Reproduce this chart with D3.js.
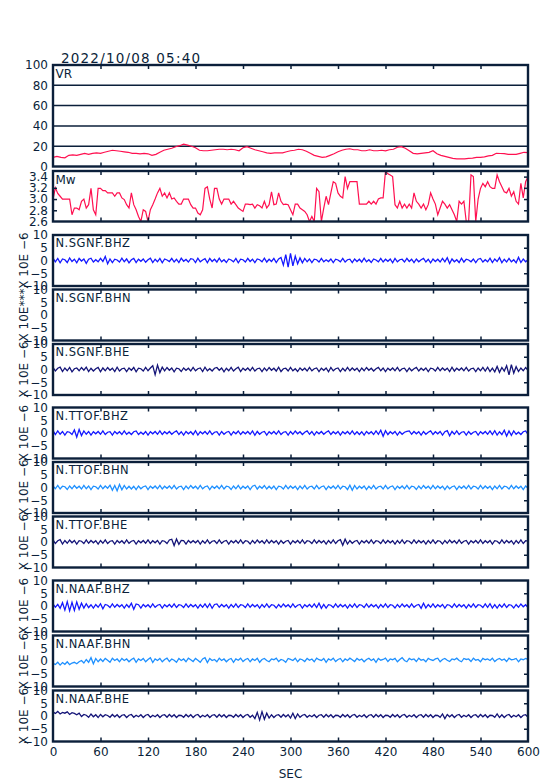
<!DOCTYPE html>
<html>
<head>
<meta charset="utf-8">
<script src="https://cdn.jsdelivr.net/npm/d3@7"></script>
<style>
body { margin: 0; background: #fff; }
text { font-family: "DejaVu Sans", sans-serif; fill: #0b1f3a; }
</style>
</head>
<body>
<div id="chart"></div>
<script>
// ---- data ----
var title = "2022/10/08 05:40";
var secTicks = [0, 60, 120, 180, 240, 300, 360, 420, 480, 540, 600];
var vrTicks = [0, 20, 40, 60, 80, 100];
var vrGrid = [20, 40, 60, 80];
var mwTicks = [2.6, 2.8, 3.0, 3.2, 3.4];
var waveTicks = [-10, -5, 0, 5, 10];

// VR every 5 s
var vrValues = [9, 10, 9, 8.5, 11, 11.5, 11, 12, 13, 12, 13, 13.5, 13, 14, 15, 16, 15.5, 15, 14.5, 14,
  13, 13, 12.5, 13, 12.5, 11, 12, 14, 16, 17, 18, 19.5, 20.5, 22, 21, 20, 18.5, 16, 15.5, 15.5,
  16, 16.5, 17, 17, 16.5, 17, 16.5, 15.5, 18.5, 19.5, 18, 16.5, 15.5, 14.5, 13.5, 13, 13.5, 13.5, 13.5, 14.5,
  15.5, 16, 17, 16.5, 15, 13, 11, 10, 9, 9.5, 11, 12.5, 14.5, 16, 17, 17.5, 16.5, 16.5, 15.5, 15.5,
  16.5, 15.5, 15.5, 16, 15.5, 16.5, 17, 19, 19.5, 18, 15.5, 13, 12.5, 13, 13.5, 14, 15.5, 12.5, 11, 10,
  9, 8, 7.6, 7.6, 7.6, 8, 8.2, 8.9, 9, 9.5, 10.5, 11, 13, 12.8, 12.6, 12, 12, 12, 13, 14, 13.6];

// Mw every 3 s
var mwValues = [3.0, 3.2, 3.1, 3.05, 3.0, 3.0, 3.0, 3.0, 2.72, 2.84, 2.84, 2.81, 2.96, 3.0, 2.84, 2.9, 3.19, 2.81, 2.72, 3.19,
  3.19, 3.15, 3.15, 3.11, 3.11, 3.11, 3.05, 3.11, 3.11, 3.02, 2.99, 2.9, 2.84, 3.11, 2.9, 2.81, 2.69, 2.6, 2.81, 2.78,
  2.6, 2.81, 2.9, 3.0, 3.11, 3.19, 3.05, 3.11, 3.02, 3.11, 3.0, 3.02, 2.96, 2.91, 2.91, 3.0, 3.0, 3.0, 2.9, 2.84,
  2.84, 2.75, 2.72, 2.81, 3.19, 3.22, 3.0, 2.84, 3.19, 3.19, 3.0, 2.91, 3.0, 3.0, 3.0, 2.91, 2.96, 2.9, 2.84, 2.81,
  2.78, 2.91, 2.91, 2.9, 2.91, 2.84, 2.9, 2.88, 2.84, 2.96, 2.84, 2.9, 3.13, 2.9, 2.91, 3.11, 2.96, 2.9, 2.91, 2.9,
  2.81, 2.72, 2.91, 2.91, 2.84, 2.81, 2.78, 2.72, 2.6, 2.69, 2.6, 3.19, 3.13, 2.6, 2.84, 3.05, 2.9, 3.11, 3.31, 3.28,
  3.11, 3.05, 3.02, 3.4, 3.19, 3.31, 3.31, 3.31, 3.31, 2.91, 2.91, 2.91, 2.91, 2.96, 2.91, 2.96, 2.91, 3.0, 3.02, 3.02,
  3.5, 3.45, 3.43, 3.4, 2.9, 2.84, 2.96, 2.84, 2.91, 2.84, 2.91, 2.84, 3.11, 2.96, 2.91, 2.84, 2.91, 2.81, 2.9, 3.11,
  3.0, 2.91, 2.72, 2.84, 2.96, 2.91, 2.84, 2.9, 2.81, 2.72, 2.6, 2.96, 2.91, 2.96, 2.6, 2.6, 3.43, 3.4, 2.6, 3.0,
  3.19, 3.28, 3.22, 3.31, 3.22, 3.19, 3.19, 3.43, 3.31, 3.22, 3.13, 3.11, 3.19, 3.05, 3.13, 2.96, 2.91, 3.28, 3.02, 3.31,
  3.4];

// waveforms (X 10E -6), every 3 s
var sgnfBHZ = [.9,-.5,.8,-.9,.6,.3,-.8,1.0,-.4,.5, -.9,.8,-.2,.6,-1.1,.5,.9,-.6,.3,-.5,
  .8,-.4,1.6,-1.3,.6,-.8,.5,.2,-.6,.9, -.5,.6,-.9,.3,.8,-.8,.5,-.3,.6,-.7,
  .3,.9,-.8,.5,-.5,.8,-.9,.6,.2,-.4, .8,-.6,.5,-.8,.9,-.3,.4,-.6,.7,.5,
  -.8,.9,-.5,.2,.7,-.9,.8,-.4,.5,-.6, .9,-.5,.3,-.8,.6,.2,-.5,.8,-.9,.5,
  .3,-.6,.8,-.4,.5,-.8,.6,.3,-.5,.9, -.6,.5,-.4,.8,-.8,.6,1.2,-1.8,2.3,-2.6,
  2.8,-2.1,1.7,-1.3,1.0,-.9,.8,-.5,.6,-.8, .5,.3,-.6,.8,-.5,.3,-.4,.6,-.8,.5,
  .2,-.5,.8,-.6,.3,.5,-.8,.6,-.4,.5, -.6,.9,-.5,.3,-.8,.6,.2,-.5,.8,-.6,
  .5,-.3,.6,-.9,.8,-.5,.3,.5,-.6,.8, -.4,.5,-.8,.6,-.5,.3,.8,-.6,.5,-.9,
  .6,-.4,.5,-.6,.8,-.5,1.1,-1.2,.6,-.5, .3,-.8,.9,-.6,.5,.2,-.5,.6,-.8,.5,
  .8,-.6,.3,-.5,.9,-.8,.6,-.4,1.1,-.9, .5,-.6,.8,-.5,.3,-.9,1.2,-.8,.6,-.5, .3];
var sgnfBHN = [];
var sgnfBHE = [.8,-.6,.5,.9,-.8,.6,-.5,.8,-.9,.3, .6,-.5,.8,-.3,.9,-.8,.5,-.6,.3,.8,
  -.9,.6,-.5,.8,-.3,.5,-.8,.9,-.6,.3, .5,-.8,.6,-.3,.8,-.9,.5,.3,-.6,.8,
  -.5,.6,1.5,-2.0,1.7,-1.2,.9,-.5,.8,-.3, .6,-.9,.5,.3,-.8,.6,-.3,.5,-.6,.8,
  -.5,.3,.6,-.8,.9,-.5,.3,-.6,.5,.8, -.3,.6,-.9,.5,-.5,.8,-.6,.3,.9,-.8,
  .5,-.3,.6,-.5,.8,-.6,.3,.5,-.8,.6, -.5,.8,-.3,.5,-.6,.9,-.8,.3,.5,-.6,
  .8,-.5,.3,-.8,.6,-.3,.5,-.6,.8,-.5, .3,.6,-.8,.5,-.3,.6,-.9,.8,-.5,.3,
  .6,-.8,.5,-.6,.8,-.5,.6,-.3,.5,-.8, .6,-.5,.8,-.3,.5,-.6,.3,.8,-.5,.6,
  -.8,.5,-.3,.6,-.5,.8,-.6,.3,.5,-.8, .6,-.5,.3,.8,-.6,.5,-.3,.6,-.8,.5,
  .3,-.6,.8,-.5,.6,-.3,.5,-.8,.9,-.6, .5,-.3,.6,-.5,.8,-.6,.3,.5,-.8,.6,
  -.5,.8,-.6,.9,-.8,.5,-.9,1.2,-1.1,.8, -.6,1.5,-2.1,1.9,-1.4,1.1,-.8,.6,-.5,.8, -.3];
var ttofBHZ = [.9,-.6,.8,-.5,.6,-.8,.5,.3,-.6,1.2, -1.6,1.4,-1.0,.8,-.5,.6,-.8,.5,-.3,.6,
  -.5,.8,-.6,.3,.5,-.8,.6,-.3,.5,-.6, .8,-.5,.3,-.6,.5,.8,-.6,.3,-.5,.6,
  -.8,.5,-.3,.6,-.5,.8,-.6,.5,-.3,.6, -.5,.3,.8,-.6,.5,-.8,.6,-.3,.5,-.6,
  .9,-.8,.5,-.3,.6,-.5,.8,-.6,.3,.5, -.8,.6,-.5,.3,.6,-.8,.5,-.3,.8,-.6,
  .5,-.3,.6,-.5,.8,-.9,.6,-.5,.3,.6, -.8,.5,-.3,.6,-.5,.8,-.6,.3,.5,-.8,
  .6,-.5,.8,-.3,.5,-.6,.3,.8,-.5,.6, -.8,.5,-.3,.6,-.5,.3,.8,-.6,.5,-.3,
  .6,-.8,.5,-.3,.6,-.5,.8,-.6,.5,-.6, .5,-.8,.6,-.3,.5,-.6,.8,-.5,1.1,-1.3,
  .9,-.6,.5,-.3,.6,-.8,.5,-.5,.3,.6, .8,-.5,.6,-.3,.5,-.8,.6,-.5,.3,.8,
  -.6,.5,-.3,.6,-.8,.5,.9,-1.1,.6,-.5, .8,-.6,.3,.5,-.8,.6,-.5,.3,.6,-.8,
  .5,-.3,.6,-.5,.8,-.6,.9,-.8,.5,-.6, 1.1,-1.2,.8,-.9,.8,-.5,.3,-.6,.5,.8, -.5];
var ttofBHN = [.6,-.5,.8,-.6,.5,.3,-.8,.6,-.5,.8, -.3,.5,-.6,.8,-.5,.6,-.8,.5,.3,-.6,
  .8,-.5,.6,-.3,.9,-1.1,.8,-1.3,1.2,-.9, .8,-.6,.5,-.6,.5,-.8,.6,-.5,.3,.6,
  -.8,.5,-.3,.6,-.5,.8,-.6,.5,-.3,.6, -.5,.8,-.6,.3,.5,-.8,.6,-.5,.8,-.3,
  .5,-.6,.8,-.5,.3,.6,-.8,.5,-.3,.6, -.5,.8,-.6,.5,.3,-.8,.6,-.5,.8,-.6,
  .5,-.3,.6,-.8,.5,.9,-.6,.5,-.3,.8, -.6,.5,-.5,.6,-.8,.5,.3,-.6,.8,-.5,
  .6,-.3,.5,-.8,.6,-.5,.8,-.6,.3,.5, -.6,.8,-.5,.3,.6,-.8,.5,-.3,.6,-.5,
  .8,-.6,.5,.3,-.8,.9,-1.1,.8,-.6,.5, -.3,.6,-.8,.5,-.5,.8,-.6,.3,.5,-.6,
  .8,-.5,.3,.6,-.8,.5,-.3,.6,-.5,.8, -.6,.5,.3,-.8,.6,-.5,.8,-.3,.5,-.6,
  .8,-.5,.6,-.3,.5,-.8,.6,-.5,.3,.6, -.8,.5,-.3,.6,-.5,.8,-.6,.5,.3,-.6,
  .8,-.5,.6,-.3,.5,-.8,.6,-.5,.8,-.6, .5,.3,-.6,.8,-.5,.6,-.3,.5,-.8,.6, -.3];
var ttofBHE = [.8,-.6,.5,.9,-.8,.6,-.5,.8,-.3,.6, -.8,.5,.3,-.6,.8,-.5,.6,-.3,.5,-.8,
  .6,-.5,.8,-.6,.3,.5,-.8,.6,-.3,.5, -.6,.8,-.5,.3,.6,-.8,.5,-.3,.6,-.5,
  .8,-.6,.5,-.3,.6,-.8,.5,.3,-.6,.8, 1.1,-1.4,1.2,-.9,.6,.5,-.8,.6,-.3,.5,
  -.3,.6,-.8,.5,-.5,.8,-.6,.3,.5,-.6, .8,-.5,.3,.6,-.8,.5,-.3,.6,-.5,.8,
  -.6,.5,.3,-.8,.6,-.5,.8,-.3,.5,-.6, .8,-.5,.6,-.3,.5,-.8,.6,-.5,.3,.6,
  -.8,.5,-.3,.6,-.5,.8,-.6,.5,.3,-.6, .8,-.5,.6,-.3,.5,-.8,.6,-.5,.8,-.6,
  .5,.9,-1.3,1.1,-.8,.6,-.5,.3,.6,-.8, .5,-.3,.6,-.5,.8,-.6,.5,.3,-.6,.8,
  -.5,.6,-.3,.5,-.8,.6,-.5,.8,-.6,.5, .3,-.6,.8,-.5,.6,-.3,.5,-.8,.6,-.5,
  .8,-.6,.5,.3,-.8,.6,-.5,.8,-.3,.5, -.6,.8,-.5,.3,.6,-.8,.5,-.3,.6,-.5,
  .8,-.6,.5,-.3,.6,-.8,.5,.3,-.6,.8, -.5,.6,-.3,.5,-.8,.6,-.5,.8,-.6,.5, .3];
var naafBHZ = [.8,-.5,.6,-.9,1.3,-1.6,1.7,-1.9,1.4,-1.7, 1.6,-1.3,1.1,-.8,.9,-.6,.5,-.8,.6,-.5,
  .9,-1.1,.6,.3,-.6,.8,-.5,.6,-.3,.5, -.8,.6,-.5,1.1,-1.3,.8,.5,-.8,.6,-.3,
  .5,-.6,.8,-.5,.3,.6,-.8,.5,-.3,.6, -.5,.8,-.6,.5,.3,-.6,.8,-.5,.6,-.3,
  .5,-.8,.6,-.5,.8,-.6,.9,-.9,.6,.8, -.5,.6,-.3,.5,-.8,.6,-.5,.8,-.6,.5,
  .3,-.6,.8,-.5,.6,-.3,.5,-.8,.6,-.5, .8,-.6,.5,.3,-.8,.6,-.5,.8,-.3,.5,
  -.6,.8,-.5,.3,.6,-.8,.5,-.3,.6,-.5, .8,-.6,1.1,-.9,.6,-.8,.5,.3,-.6,.8,
  -.5,.6,-.3,.5,-.8,.6,-.5,.8,-.6,.5, .3,-.6,.8,-.5,.6,-.3,.5,-.8,.6,-.5,
  .8,-.6,.5,.3,-.8,.6,-.5,.8,-.3,.5, -.6,.8,-.5,.3,.6,-.9,1.1,-.8,.6,-.5,
  .8,-.6,.5,-.3,.6,-.8,.5,.3,-.6,.8, -.5,.6,-.3,.5,-.8,.6,-.5,.8,-.6,.5,
  .3,-.6,.8,-.5,.9,-.8,.5,-.8,.6,-.5, .8,-.6,.5,.3,-.8,.6,-.5,.8,-.3,.5, -.6];
var naafBHN = [-.9,-1.4,-.5,-1.6,-.6,-1.3,-.3,-1.4,-.8,-.5, -1.1,-.3,.2,-.8,.6,-.5,1.3,-1.1,1.0,-.3,
  .8,-.2,1.0,.3,-.5,1.1,.2,.8,-.3,1.0, .2,.8,-.3,.6,1.1,-.5,.8,.2,1.0,-.3,
  .6,1.3,-.6,.8,.2,1.0,-.3,.6,1.1,-.2, .8,.3,-.5,1.0,.2,.8,-.3,1.1,.5,-.2,
  1.0,.3,-.5,.8,1.3,-.6,1.0,.2,.6,-.3, 1.1,.2,.8,-.3,.6,1.0,-.5,.8,.3,1.1,
  -.2,.6,1.0,-.3,.8,.2,1.1,-.5,.6,1.0, .2,-.3,.8,.5,1.1,-.2,.6,.3,-.5,1.0,
  .6,.2,1.1,-.3,.8,.5,-.2,1.0,.3,.8, -.3,1.1,.5,.2,1.0,-.5,.8,.3,1.1,-.2,
  .6,1.0,-.3,.8,.2,1.1,.5,-.2,1.0,.3, .8,-.3,.6,1.1,.2,.8,-.5,1.0,.3,.6,
  1.1,-.2,.8,.5,1.0,-.3,.6,1.3,.2,-.3, 1.0,.5,.8,-.2,1.1,.3,.6,-.3,1.0,.5,
  .2,.8,1.1,-.3,.6,1.0,.3,-.2,.8,.5, 1.1,.2,-.3,1.0,.6,.8,-.2,1.1,.3,.6,
  -.3,1.0,.5,.8,.2,1.1,-.2,.6,1.0,.3, .8,-.2,1.1,.5,.6,1.0,-.3,.8,.5,1.0, .6];
var naafBHE = [1.6,1.0,1.8,.8,1.4,1.1,1.6,.6,1.3,1.0, .5,1.1,-.2,.6,.3,-.5,.8,-.3,.5,-.6,
  .6,-.3,.5,.2,-.5,.6,-.3,.5,-.6,.3, .5,-.6,.3,.6,-.5,.3,-.3,.5,-.6,.3,
  .6,-.5,.3,-.3,.5,-.6,.3,.5,-.5,.6, -.3,.5,-.6,.3,.2,-.5,.6,-.3,.5,-.6,
  .3,.6,-.5,.3,-.3,.5,-.6,.3,.5,-.5, .6,-.3,.5,-.6,.3,.2,-.5,.6,-.3,.5,
  -.6,.3,.6,-.5,.3,-1.0,1.4,-1.6,1.7,-1.3, 1.1,-.8,.5,-.6,.3,.5,-.5,.6,-.3,.5,
  -.8,1.1,-1.0,.8,-.5,.3,.6,-.5,.3,-.3, .5,-.6,.3,.5,-.5,.6,-.3,.5,-.6,.3,
  .2,-.5,.6,-.3,.5,-.6,.3,.6,-.5,.3, -.3,.5,-.6,.3,.5,-.5,.6,-.3,.5,-.6,
  .3,.2,-.5,.6,-.3,.5,-.6,.3,.6,-.5, .3,-.3,.5,-.6,.3,.5,-.5,.6,-.3,.5,
  -.6,.3,.2,-.5,.8,-1.0,.6,-.3,.5,-.6, .3,.6,-.5,.3,-.3,.5,-.6,.3,.5,-.5,
  .6,-.3,.5,-.6,.3,.2,-.5,.8,-.6,.5, -.6,.3,.6,-.5,.3,-.3,.5,-.6,.3,.5, -.5];

var traceNames = ["N.SGNF.BHZ", "N.SGNF.BHN", "N.SGNF.BHE", "N.TTOF.BHZ", "N.TTOF.BHN", "N.TTOF.BHE",
  "N.NAAF.BHZ", "N.NAAF.BHN", "N.NAAF.BHE"];
var traceValues = [sgnfBHZ, sgnfBHN, sgnfBHE, ttofBHZ, ttofBHN, ttofBHE, naafBHZ, naafBHN, naafBHE];
var traceUnits = ["X 10E \u22126", "X 10E***", "X 10E \u22126", "X 10E \u22126", "X 10E \u22126", "X 10E \u22126",
  "X 10E \u22126", "X 10E \u22126", "X 10E \u22126"];

// ---- layout ----
var ink = "#0b1f3a";
var compColor = { BHZ: "#1418ff", BHN: "#1e90ff", BHE: "#141478" };
var traceTops = [235, 289.5, 344, 407.5, 462, 516.5, 580.5, 635.5, 690.5];
var traceH = 51;

var svg = d3.select("#chart").append("svg")
  .attr("width", 554)
  .attr("height", 781);

var x = d3.scaleLinear().domain([0, 600]).range([53, 528]);
var clipCount = 0;

function styleAxis(sel) {
  sel.select(".domain").remove();
  sel.selectAll("line").attr("stroke", ink).attr("stroke-width", 1.5);
  sel.selectAll("text").attr("font-family", "DejaVu Sans").attr("font-size", 12).attr("fill", ink);
  sel.attr("font-family", null).attr("font-size", null);
}

function drawPanel(p) {
  var top = p.top, h = p.h;
  var y = d3.scaleLinear().domain(p.domain).range([top + h, top]);
  var g = svg.append("g");
  var clipId = "clip" + (clipCount++);

  g.append("clipPath").attr("id", clipId).append("rect")
    .attr("x", x(0)).attr("y", top)
    .attr("width", x(600) - x(0)).attr("height", h);

  if (p.grid) {
    g.selectAll(".grid").data(p.grid).enter().append("line")
      .attr("x1", x(0)).attr("x2", x(600))
      .attr("y1", function (d) { return y(d); })
      .attr("y2", function (d) { return y(d); })
      .attr("stroke", ink).attr("stroke-width", 1.5);
  }

  if (p.values && p.values.length) {
    var step = 600 / (p.values.length - 1);
    var line = d3.line()
      .x(function (d, i) { return x(i * step); })
      .y(function (d) { return y(d); });
    g.append("path").datum(p.values)
      .attr("clip-path", "url(#" + clipId + ")")
      .attr("d", line)
      .attr("fill", "none")
      .attr("stroke", p.color)
      .attr("stroke-width", p.lw)
      .attr("stroke-linejoin", "miter");
  }

  // inward time ticks, top and bottom
  var inner = secTicks.slice(1, -1);
  g.append("g").attr("transform", "translate(0," + top + ")")
    .call(d3.axisBottom(x).tickValues(inner).tickSize(4).tickFormat(""))
    .call(styleAxis);
  g.append("g").attr("transform", "translate(0," + (top + h) + ")")
    .call(d3.axisTop(x).tickValues(inner).tickSize(4).tickFormat(""))
    .call(styleAxis);

  // value labels on the left
  g.append("g").attr("transform", "translate(" + x(0) + ",0)")
    .call(d3.axisLeft(y).tickValues(p.ticks).tickSize(0).tickPadding(5).tickFormat(p.fmt))
    .call(styleAxis);

  // small inward ticks on the sides
  if (p.rightTicks) {
    g.append("g").attr("transform", "translate(" + x(600) + ",0)")
      .call(d3.axisLeft(y).tickValues(p.rightTicks).tickSize(4).tickFormat(""))
      .call(styleAxis);
  }
  if (p.leftTicks) {
    g.append("g").attr("transform", "translate(" + x(0) + ",0)")
      .call(d3.axisRight(y).tickValues(p.leftTicks).tickSize(4).tickFormat(""))
      .call(styleAxis);
  }

  g.append("rect")
    .attr("x", x(0)).attr("y", top)
    .attr("width", x(600) - x(0)).attr("height", h)
    .attr("fill", "none").attr("stroke", ink).attr("stroke-width", 2.4);

  g.append("text")
    .attr("x", x(0) + 2.5).attr("y", top + p.labelDy)
    .attr("font-size", p.labelSize)
    .attr("letter-spacing", p.labelSpacing || 0)
    .text(p.label);

  if (p.unit) {
    g.append("text")
      .attr("transform", "translate(28," + (top + h / 2) + ") rotate(-90)")
      .attr("text-anchor", "middle")
      .attr("font-size", 12)
      .text(p.unit);
  }
}

// title
svg.append("text")
  .attr("x", 61).attr("y", 62.5)
  .attr("font-size", 13.5)
  .attr("letter-spacing", 1.2)
  .text(title);

drawPanel({ top: 65, h: 101.5, domain: [0, 100], values: vrValues, color: "#ff1050", lw: 1.2,
  ticks: vrTicks, fmt: d3.format("d"), grid: vrGrid, label: "VR", labelDy: 12.7, labelSize: 12 });

drawPanel({ top: 171, h: 50.5, domain: [2.6, 3.5], values: mwValues, color: "#ff1050", lw: 1.2,
  ticks: mwTicks, fmt: d3.format(".1f"), rightTicks: [2.8, 3.0, 3.2, 3.4], leftTicks: [2.8, 3.0, 3.2],
  label: "Mw", labelDy: 13, labelSize: 12 });

traceNames.forEach(function (name, i) {
  var comp = name.split(".")[2];
  drawPanel({ top: traceTops[i], h: traceH, domain: [-10, 10], values: traceValues[i],
    color: compColor[comp], lw: 1.3, ticks: waveTicks, fmt: d3.format("d"), rightTicks: [-5, 5],
    label: name, labelDy: 12, labelSize: 11.5, labelSpacing: 0.5, unit: traceUnits[i] });
});

// bottom time labels
var last = traceTops[traceTops.length - 1] + traceH;
svg.append("g").attr("transform", "translate(0," + last + ")")
  .call(d3.axisBottom(x).tickValues(secTicks).tickSize(0).tickPadding(6).tickFormat(d3.format("d")))
  .call(styleAxis);

svg.append("text")
  .attr("x", x(300)).attr("y", 777.5)
  .attr("text-anchor", "middle")
  .attr("font-size", 12)
  .text("SEC");
</script>
</body>
</html>
